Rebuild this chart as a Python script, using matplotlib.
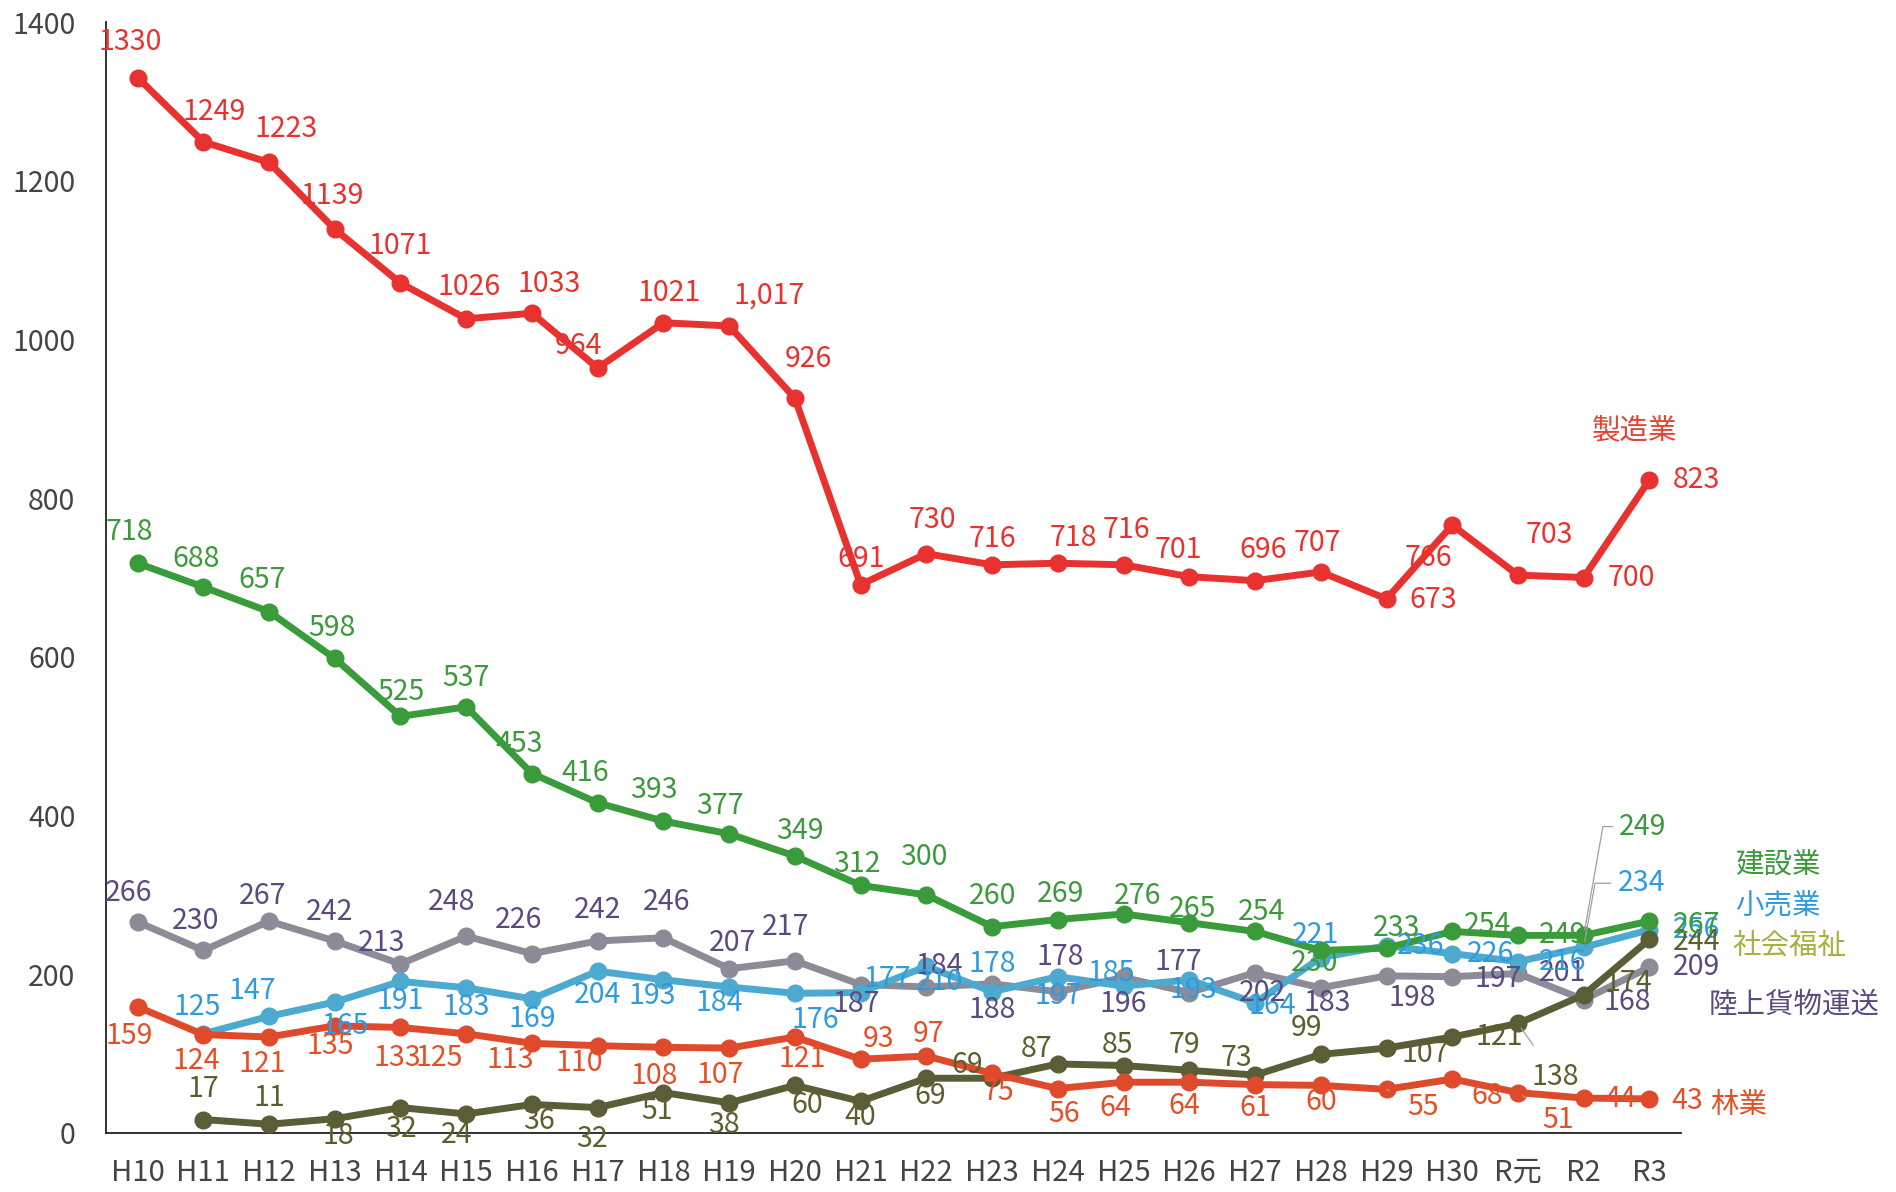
import numpy as np
import matplotlib
matplotlib.use("Agg")
import matplotlib.pyplot as plt

plt.rcParams['font.family'] = ['Noto Sans CJK JP', 'DejaVu Sans']

# ---------------- data ----------------
categories = ['H10', 'H11', 'H12', 'H13', 'H14', 'H15', 'H16', 'H17', 'H18', 'H19', 'H20',
              'H21', 'H22', 'H23', 'H24', 'H25', 'H26', 'H27', 'H28', 'H29', 'H30',
              'R元', 'R2', 'R3']

manufacturing = [1330, 1249, 1223, 1139, 1071, 1026, 1033, 964, 1021, 1017, 926, 691, 730,
                 716, 718, 716, 701, 696, 707, 673, 766, 703, 700, 823]
construction = [718, 688, 657, 598, 525, 537, 453, 416, 393, 377, 349, 312, 300, 260, 269,
                276, 265, 254, 230, 233, 254, 249, 249, 267]
retail = [np.nan, 125, 147, 165, 191, 183, 169, 204, 193, 184, 176, 177, 210, 178, 197, 185,
          193, 164, 221, 236, 226, 216, 234, 256]
transport = [266, 230, 267, 242, 213, 248, 226, 242, 246, 207, 217, 187, 184, 188, 178, 196,
             177, 202, 183, 198, 197, 201, 168, 209]
welfare = [np.nan, 17, 11, 18, 32, 24, 36, 32, 51, 38, 60, 40, 69, 69, 87, 85, 79, 73, 99,
           107, 121, 138, 174, 244]
forestry = [159, 124, 121, 135, 133, 125, 113, 110, 108, 107, 121, 93, 97, 75, 56, 64, 64, 61,
            60, 55, 68, 51, 44, 43]

names = ['製造業', '建設業', '小売業', '社会福祉', '陸上貨物運送', '林業']
yticks = [0, 200, 400, 600, 800, 1000, 1200, 1400]

# ---------------- label offsets (reference px, dx right, dy up) ----------------
off_mfg = [(-6, 29), (9, 25), (14, 28), (-2, 27), (0, 31), (2, 26), (14, 24), (-16, 18), (5, 25),
           (33, 25), (11, 32), (0, 21), (5, 28), (0, 21), (13, 21), (2, 29), (-9, 22), (7, 25),
           (-3, 24), (39, -1), (-20, -27), (26, 33), (39, 0), (39, 0)]
off_con = [(-7, 26), (-6, 23), (-6, 26), (-2, 25), (0, 20), (0, 24), (-11, 24), (-10, 25),
           (-8, 26), (-8, 23), (4, 21), (-3, 18), (-2, 31), (0, 25), (2, 21), (12, 15), (3, 11),
           (5, 16), (-5, -10), (8, 17), (29, 5), (37, 0), (49, 90), (39, -3)]
off_ret = [None, (-5, 22), (-14, 21), (9, -20), (0, -16), (0, -16), (0, -17), (0, -20), (-9, -13),
           (-8, -13), (17, -22), (22, 11), (11, -13), (0, 23), (0, -16), (-10, 11), (3, -8),
           (14, -3), (-4, 19), (28, 0), (32, 0), (37, 0), (48, 53), (39, 0)]
off_tra = [(-7, 24), (-6, 24), (-5, 21), (-4, 24), (-16, 17), (-12, 28), (-11, 28), (0, 26),
           (3, 30), (3, 21), (-8, 28), (-4, -16), (11, 17), (0, -22), (2, 29), (0, -22), (-9, 25),
           (6, -17), (5, -13), (21, -18), (38, -2), (37, 0), (36, -2), (39, 0)]
off_wel = [None, (0, 25), (0, 22), (3, -14), (0, -18), (-8, -17), (6, -14), (-5, -26), (-5, -15),
           (-4, -18), (10, -16), (0, -13), (3, -15), (-21, 11), (-18, 12), (-5, 17), (-4, 21),
           (-15, 14), (-12, 22), (32, -5), (39, 0), (31, -44), (37, 10), (39, -2)]
off_for = [(-7, -24), (-6, -22), (-6, -22), (-4, -17), (-3, -25), (-22, -20), (-18, -14),
           (-15, -14), (-8, -24), (-7, -22), (6, -18), (15, 17), (2, 18), (5, -15), (5, -21),
           (-7, -21), (-4, -20), (0, -19), (0, -14), (30, -15), (29, -14), (33, -23), (30, -1),
           (31, -2)]

series = [
    # values, line color, label color, offsets, leader indices (bent leaders), zorder
    (transport, '#8C8C98', '#5A4A80', off_tra, [], 3),
    (retail, '#4CA9D0', '#2E9BDF', off_ret, [22], 4),
    (welfare, '#5A5D36', '#5C5E2E', off_wel, [21], 5),
    (forestry, '#DF4A2C', '#E44F26', off_for, [19, 21], 5),
    (construction, '#3A9B3A', '#3C9A3C', off_con, [22], 6),
    (manufacturing, '#E83230', '#E8322E', off_mfg, [], 7),
]
bent = {(1, 22), (4, 22)}
text_override = {(5, 9): '1,017'}

W, H = 1896, 1192
S = W / 1568.0  # reference-px -> output-px

fig = plt.figure(figsize=(W / 100, H / 100), dpi=100)
ax = fig.add_axes([106 / W, 1 - 1133 / H, (1681 - 106) / W, (1133 - 22) / H])

x = np.arange(len(categories))
for si, (vals, lc, tc, offs, leaders, z) in enumerate(series):
    v = np.array(vals, dtype=float)
    ax.plot(x, v, color=lc, lw=5.0, marker='o', markersize=12, zorder=z,
            solid_capstyle='round', solid_joinstyle='round')
    for i, val in enumerate(v):
        if np.isnan(val) or offs[i] is None:
            continue
        dx, dy = offs[i]
        txt = text_override.get((si, i), f"{int(val)}")
        kw = {}
        if (si, i) in bent:
            kw['arrowprops'] = dict(arrowstyle='-', color='#A0A0A0', lw=0.9,
                                    shrinkA=3, shrinkB=4, relpos=(0, 0.5),
                                    connectionstyle='angle,angleA=0,angleB=80,rad=0')
        elif i in leaders:
            kw['arrowprops'] = dict(arrowstyle='-', color='#A0A0A0', lw=0.9,
                                    shrinkA=12, shrinkB=4)
        ax.annotate(txt, (x[i], val), xytext=(dx * S, dy * S), textcoords='offset pixels',
                    ha='center', va='center', fontsize=20.5, color=tc, zorder=10, **kw)

ax.set_xlim(-0.48, 23.48)
ax.set_ylim(0, 1400)
ax.set_yticks(yticks)
ax.set_yticklabels([str(t) for t in yticks], fontsize=20.5, color='#444444')
ax.set_xticks(x)
ax.set_xticklabels(categories, fontsize=21, color='#444444',
                   family=['Liberation Sans Narrow', 'Noto Sans CJK JP'])
ax.tick_params(axis='both', length=0)
ax.tick_params(axis='y', pad=22)
ax.tick_params(axis='x', pad=18)
for sp in ['top', 'right']:
    ax.spines[sp].set_visible(False)
ax.spines['left'].set_linewidth(1.3)
ax.spines['bottom'].set_linewidth(1.3)
ax.spines['left'].set_color('#222222')
ax.spines['bottom'].set_color('#222222')

# series names
name_pos = [(1352, 356), (1470, 716), (1470, 750), (1480, 782), (1484, 831), (1438, 914)]
name_col = ['#E84030', '#3C9A3C', '#2E9BDF', '#A8B040', '#5A4A80', '#E44F26']
for n, (px, py), c in zip(names, name_pos, name_col):
    fig.text(px / 1568, 1 - py / 986, n, ha='center', va='center', fontsize=20.5, color=c)

fig.savefig('out.png', dpi=100, facecolor='white')
